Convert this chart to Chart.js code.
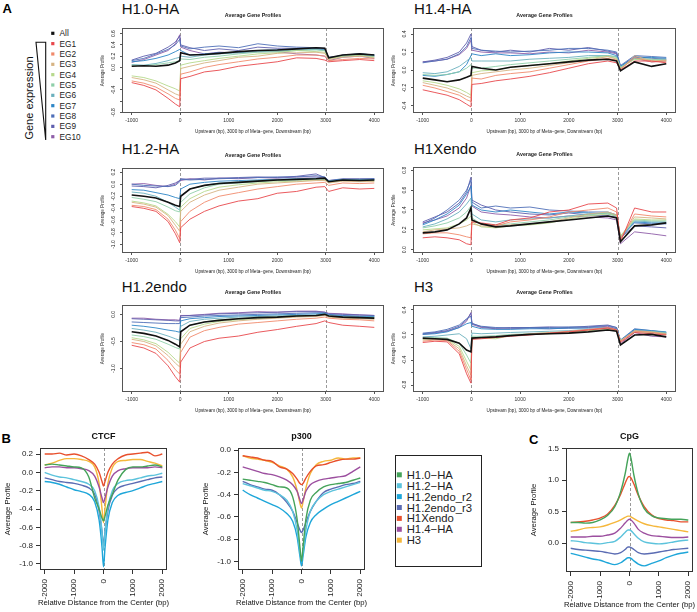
<!DOCTYPE html>
<html>
<head>
<meta charset="utf-8">
<script src="https://cdn.jsdelivr.net/npm/chart.js@4.4.1/dist/chart.umd.min.js"></script>
<style>
  body { margin: 0; width: 697px; height: 612px; position: relative; overflow: hidden; background: #fff; }
  canvas { position: absolute; }
  svg { position: absolute; left: 0; top: 0; }
  svg text { font-family: "Liberation Sans", Arial, sans-serif; }
</style>
</head>
<body>
<svg id="decor" width="697" height="612"></svg>
<script>
/* ─── Panel A: average gene profiles ─────────────────────────── */

const GENE_X = [-1000, -750, -500, -250, -100, -10, 10, 200, 500, 800, 1200, 1600, 2000, 2400, 2800, 2980, 3060, 3350, 3700, 4000];
const GENE_TICKS = [-1000, 0, 1000, 2000, 3000, 4000];
const GENE_GROUPS = ['All', 'EG1', 'EG2', 'EG3', 'EG4', 'EG5', 'EG6', 'EG7', 'EG8', 'EG9', 'EG10'];
const GROUP_COLORS = ['#111111', '#e8474c', '#f08a6c', '#d6b383', '#b7d98c', '#8ecfa9', '#6ab0bd', '#2d86c6', '#4f6fb8', '#5f5fae', '#8e5ea8'];

// rows follow GENE_GROUPS: All, EG1 ... EG10
const h10HA = [
  [0.02, 0.03, 0.02, 0.04, 0.08, 0.12, 0.26, 0.22, 0.23, 0.25, 0.28, 0.30, 0.31, 0.33, 0.35, 0.34, 0.17, 0.22, 0.24, 0.22],
  [-0.27, -0.32, -0.40, -0.55, -0.65, -0.70, -0.20, -0.16, -0.08, -0.05, 0.02, 0.06, 0.10, 0.17, 0.16, 0.13, 0.10, 0.12, 0.14, 0.12],
  [-0.24, -0.28, -0.35, -0.47, -0.55, -0.58, -0.12, -0.08, 0.00, 0.05, 0.10, 0.15, 0.18, 0.22, 0.22, 0.20, 0.12, 0.14, 0.16, 0.15],
  [-0.18, -0.22, -0.28, -0.40, -0.47, -0.50, -0.02, 0.02, 0.08, 0.12, 0.18, 0.20, 0.25, 0.26, 0.27, 0.25, 0.14, 0.18, 0.20, 0.17],
  [-0.15, -0.18, -0.24, -0.33, -0.38, -0.42, 0.04, 0.08, 0.12, 0.16, 0.20, 0.24, 0.26, 0.30, 0.28, 0.27, 0.15, 0.20, 0.21, 0.18],
  [0.04, 0.03, 0.05, 0.08, 0.10, 0.12, 0.15, 0.14, 0.18, 0.20, 0.24, 0.27, 0.28, 0.30, 0.31, 0.30, 0.16, 0.20, 0.22, 0.19],
  [0.05, 0.04, 0.07, 0.12, 0.16, 0.18, 0.20, 0.18, 0.22, 0.24, 0.26, 0.28, 0.29, 0.31, 0.32, 0.30, 0.17, 0.21, 0.23, 0.21],
  [0.10, 0.12, 0.16, 0.22, 0.28, 0.32, 0.30, 0.22, 0.24, 0.26, 0.27, 0.30, 0.31, 0.33, 0.33, 0.31, 0.16, 0.22, 0.24, 0.22],
  [0.12, 0.16, 0.24, 0.32, 0.40, 0.50, 0.38, 0.33, 0.36, 0.38, 0.35, 0.42, 0.38, 0.36, 0.35, 0.34, 0.18, 0.21, 0.24, 0.22],
  [0.13, 0.20, 0.25, 0.36, 0.45, 0.56, 0.40, 0.35, 0.30, 0.33, 0.30, 0.36, 0.34, 0.34, 0.34, 0.32, 0.17, 0.20, 0.22, 0.20],
  [0.09, 0.14, 0.22, 0.30, 0.42, 0.58, 0.36, 0.30, 0.24, 0.27, 0.26, 0.28, 0.28, 0.24, 0.22, 0.20, 0.12, 0.18, 0.20, 0.16]
];

const h14HA = [
  [-0.09, -0.11, -0.13, -0.11, -0.08, -0.06, 0.04, 0.02, 0.00, 0.03, 0.05, 0.07, 0.09, 0.11, 0.12, 0.10, -0.01, 0.09, 0.04, 0.07],
  [-0.22, -0.25, -0.28, -0.33, -0.38, -0.41, -0.16, -0.15, -0.12, -0.10, -0.07, -0.03, 0.02, 0.07, 0.10, 0.08, 0.00, 0.10, 0.10, 0.08],
  [-0.17, -0.20, -0.24, -0.28, -0.33, -0.35, -0.09, -0.10, -0.06, -0.04, -0.02, 0.02, 0.06, 0.10, 0.13, 0.11, 0.01, 0.14, 0.09, 0.10],
  [-0.14, -0.17, -0.20, -0.25, -0.29, -0.31, -0.06, -0.04, -0.02, 0.00, 0.02, 0.05, 0.08, 0.11, 0.15, 0.12, 0.00, 0.16, 0.10, 0.11],
  [-0.12, -0.14, -0.17, -0.21, -0.25, -0.28, -0.03, -0.01, 0.00, 0.03, 0.05, 0.07, 0.10, 0.13, 0.15, 0.13, 0.02, 0.12, 0.11, 0.10],
  [-0.05, -0.06, -0.05, -0.02, 0.02, 0.06, 0.02, 0.02, 0.04, 0.06, 0.08, 0.10, 0.12, 0.14, 0.16, 0.14, 0.03, 0.12, 0.12, 0.11],
  [-0.03, -0.04, -0.02, 0.04, 0.10, 0.14, 0.10, 0.10, 0.10, 0.10, 0.12, 0.13, 0.14, 0.16, 0.16, 0.15, 0.03, 0.13, 0.12, 0.12],
  [-0.06, -0.07, -0.05, -0.02, 0.06, 0.16, 0.18, 0.16, 0.18, 0.16, 0.17, 0.19, 0.20, 0.20, 0.19, 0.16, 0.04, 0.14, 0.14, 0.13],
  [0.08, 0.10, 0.12, 0.18, 0.26, 0.36, 0.24, 0.22, 0.21, 0.20, 0.21, 0.22, 0.24, 0.24, 0.22, 0.20, 0.05, 0.16, 0.15, 0.14],
  [0.09, 0.11, 0.14, 0.20, 0.30, 0.40, 0.26, 0.22, 0.20, 0.22, 0.20, 0.24, 0.22, 0.25, 0.21, 0.19, 0.04, 0.15, 0.13, 0.12],
  [0.09, 0.10, 0.12, 0.17, 0.24, 0.33, 0.22, 0.20, 0.19, 0.19, 0.18, 0.20, 0.19, 0.22, 0.20, 0.18, 0.02, 0.13, 0.09, 0.10]
];

const h12HA = [
  [-0.18, -0.20, -0.23, -0.30, -0.35, -0.37, -0.20, -0.08, -0.02, 0.01, 0.03, 0.05, 0.07, 0.08, 0.09, 0.10, 0.04, 0.07, 0.06, 0.07],
  [-0.37, -0.40, -0.45, -0.62, -0.82, -0.97, -0.72, -0.58, -0.45, -0.36, -0.28, -0.24, -0.15, -0.12, -0.05, -0.04, -0.12, -0.06, -0.08, -0.07],
  [-0.35, -0.37, -0.42, -0.58, -0.76, -0.90, -0.62, -0.45, -0.30, -0.20, -0.14, -0.08, -0.04, 0.00, 0.02, 0.03, -0.02, 0.02, 0.01, 0.02],
  [-0.30, -0.33, -0.38, -0.52, -0.68, -0.78, -0.45, -0.30, -0.18, -0.10, -0.05, 0.00, 0.02, 0.04, 0.06, 0.06, 0.02, 0.05, 0.04, 0.05],
  [-0.28, -0.31, -0.36, -0.50, -0.62, -0.71, -0.38, -0.24, -0.12, -0.05, -0.01, 0.02, 0.04, 0.05, 0.07, 0.07, 0.03, 0.06, 0.05, 0.05],
  [-0.22, -0.25, -0.29, -0.38, -0.44, -0.46, -0.30, -0.16, -0.06, 0.00, 0.02, 0.04, 0.06, 0.07, 0.08, 0.08, 0.04, 0.06, 0.06, 0.06],
  [-0.13, -0.15, -0.20, -0.30, -0.38, -0.43, -0.20, -0.08, -0.02, 0.02, 0.04, 0.06, 0.07, 0.08, 0.09, 0.09, 0.05, 0.07, 0.07, 0.07],
  [-0.09, -0.10, -0.14, -0.18, -0.22, -0.24, -0.08, 0.00, 0.03, 0.05, 0.06, 0.07, 0.08, 0.09, 0.10, 0.10, 0.05, 0.08, 0.07, 0.08],
  [0.00, -0.02, -0.03, -0.04, -0.02, 0.04, 0.08, 0.07, 0.08, 0.09, 0.10, 0.11, 0.12, 0.12, 0.14, 0.12, 0.06, 0.08, 0.08, 0.09],
  [-0.03, -0.04, -0.06, -0.02, 0.02, 0.06, 0.09, 0.08, 0.10, 0.10, 0.11, 0.12, 0.11, 0.13, 0.17, 0.11, 0.06, 0.09, 0.09, 0.09],
  [0.00, 0.01, -0.02, -0.04, 0.00, 0.06, 0.06, 0.09, 0.07, 0.10, 0.09, 0.11, 0.10, 0.12, 0.12, 0.10, 0.05, 0.07, 0.07, 0.08]
];

const h1Xendo = [
  [0.17, 0.18, 0.20, 0.26, 0.32, 0.42, 0.30, 0.26, 0.23, 0.24, 0.26, 0.28, 0.30, 0.32, 0.34, 0.32, 0.08, 0.24, 0.25, 0.27],
  [0.12, 0.13, 0.12, 0.10, 0.06, 0.05, 0.28, 0.27, 0.25, 0.30, 0.32, 0.38, 0.40, 0.46, 0.47, 0.42, 0.08, 0.42, 0.38, 0.38],
  [0.16, 0.17, 0.17, 0.15, 0.13, 0.12, 0.30, 0.26, 0.24, 0.28, 0.30, 0.33, 0.38, 0.40, 0.42, 0.38, 0.10, 0.36, 0.34, 0.33],
  [0.18, 0.20, 0.21, 0.22, 0.24, 0.26, 0.26, 0.24, 0.23, 0.25, 0.26, 0.28, 0.32, 0.36, 0.38, 0.35, 0.12, 0.33, 0.32, 0.31],
  [0.20, 0.21, 0.22, 0.26, 0.30, 0.34, 0.28, 0.23, 0.22, 0.24, 0.25, 0.27, 0.31, 0.34, 0.36, 0.34, 0.14, 0.31, 0.30, 0.30],
  [0.22, 0.24, 0.27, 0.32, 0.38, 0.44, 0.32, 0.26, 0.25, 0.26, 0.28, 0.30, 0.33, 0.35, 0.37, 0.34, 0.13, 0.30, 0.29, 0.29],
  [0.23, 0.26, 0.31, 0.38, 0.46, 0.52, 0.36, 0.30, 0.28, 0.30, 0.31, 0.32, 0.34, 0.36, 0.37, 0.35, 0.12, 0.29, 0.28, 0.28],
  [0.25, 0.30, 0.36, 0.45, 0.56, 0.64, 0.45, 0.40, 0.38, 0.40, 0.38, 0.36, 0.38, 0.37, 0.36, 0.34, 0.12, 0.28, 0.27, 0.27],
  [0.26, 0.32, 0.40, 0.50, 0.60, 0.70, 0.48, 0.42, 0.44, 0.42, 0.43, 0.40, 0.39, 0.38, 0.38, 0.35, 0.13, 0.27, 0.26, 0.26],
  [0.28, 0.33, 0.38, 0.47, 0.58, 0.73, 0.50, 0.45, 0.40, 0.38, 0.36, 0.35, 0.37, 0.35, 0.34, 0.33, 0.12, 0.24, 0.23, 0.22],
  [0.27, 0.30, 0.34, 0.42, 0.52, 0.65, 0.44, 0.38, 0.36, 0.35, 0.33, 0.32, 0.34, 0.33, 0.32, 0.30, 0.06, 0.18, 0.16, 0.14]
];

const h12endo = [
  [-0.32, -0.35, -0.40, -0.48, -0.55, -0.60, -0.32, -0.20, -0.14, -0.11, -0.08, -0.06, -0.05, -0.03, -0.02, 0.00, -0.03, -0.05, -0.06, -0.07],
  [-0.57, -0.62, -0.72, -0.95, -1.15, -1.25, -0.88, -0.62, -0.50, -0.44, -0.40, -0.33, -0.28, -0.22, -0.17, -0.12, -0.15, -0.20, -0.22, -0.24],
  [-0.52, -0.56, -0.64, -0.85, -1.02, -1.10, -0.70, -0.42, -0.30, -0.24, -0.18, -0.15, -0.12, -0.09, -0.07, -0.05, -0.07, -0.09, -0.10, -0.12],
  [-0.46, -0.50, -0.58, -0.76, -0.90, -0.97, -0.55, -0.32, -0.22, -0.16, -0.12, -0.09, -0.07, -0.05, -0.04, -0.02, -0.05, -0.07, -0.08, -0.09],
  [-0.43, -0.47, -0.54, -0.70, -0.83, -0.90, -0.45, -0.26, -0.18, -0.13, -0.10, -0.08, -0.06, -0.04, -0.03, -0.01, -0.04, -0.06, -0.07, -0.08],
  [-0.38, -0.41, -0.46, -0.55, -0.61, -0.64, -0.32, -0.20, -0.14, -0.10, -0.08, -0.06, -0.04, -0.03, -0.02, 0.00, -0.03, -0.05, -0.06, -0.06],
  [-0.26, -0.29, -0.33, -0.40, -0.45, -0.48, -0.22, -0.13, -0.09, -0.07, -0.05, -0.04, -0.03, -0.02, -0.01, 0.01, -0.02, -0.04, -0.05, -0.05],
  [-0.20, -0.22, -0.25, -0.29, -0.31, -0.33, -0.12, -0.08, -0.06, -0.04, -0.03, -0.02, -0.01, 0.00, 0.01, 0.02, -0.01, -0.03, -0.04, -0.04],
  [-0.14, -0.15, -0.16, -0.17, -0.17, -0.17, -0.06, -0.05, -0.03, -0.02, -0.01, 0.00, 0.01, 0.02, 0.03, 0.03, 0.00, -0.02, -0.03, -0.03],
  [-0.08, -0.09, -0.10, -0.11, -0.12, -0.12, -0.03, -0.02, -0.01, 0.01, 0.02, 0.03, 0.04, 0.05, 0.05, 0.04, 0.01, 0.00, -0.01, -0.02],
  [-0.07, -0.07, -0.09, -0.10, -0.10, -0.11, -0.02, -0.02, 0.00, 0.02, 0.03, 0.05, 0.04, 0.06, 0.06, 0.04, 0.02, 0.01, -0.01, -0.02]
];

const h3 = [
  [-0.05, -0.06, -0.07, -0.13, -0.24, -0.27, -0.05, -0.04, -0.03, -0.01, 0.01, 0.02, 0.03, 0.05, 0.08, 0.06, -0.16, 0.00, 0.01, -0.03],
  [-0.12, -0.10, -0.11, -0.30, -0.62, -0.77, -0.07, -0.06, -0.04, -0.02, 0.00, 0.03, 0.05, 0.08, 0.11, 0.08, -0.12, 0.04, 0.02, 0.00],
  [-0.10, -0.08, -0.09, -0.26, -0.55, -0.72, -0.06, -0.05, -0.03, -0.01, 0.01, 0.03, 0.06, 0.09, 0.12, 0.09, -0.10, 0.06, 0.04, 0.01],
  [-0.08, -0.07, -0.08, -0.22, -0.49, -0.64, -0.05, -0.04, -0.03, -0.01, 0.02, 0.04, 0.05, 0.08, 0.10, 0.08, -0.10, 0.07, 0.05, 0.02],
  [-0.07, -0.06, -0.07, -0.18, -0.42, -0.56, -0.04, -0.05, -0.06, -0.01, 0.01, 0.02, 0.04, 0.07, 0.09, 0.07, -0.09, 0.05, 0.04, 0.01],
  [-0.05, -0.04, -0.05, -0.13, -0.32, -0.45, -0.02, -0.02, -0.01, 0.01, 0.02, 0.04, 0.05, 0.07, 0.09, 0.08, -0.09, 0.06, 0.05, 0.03],
  [-0.03, -0.02, 0.00, 0.02, -0.06, -0.22, 0.03, 0.02, 0.03, 0.04, 0.05, 0.06, 0.07, 0.09, 0.10, 0.08, -0.10, 0.07, 0.06, 0.04],
  [0.01, 0.02, 0.05, 0.12, 0.18, 0.20, 0.14, 0.10, 0.09, 0.09, 0.10, 0.10, 0.11, 0.11, 0.12, 0.10, -0.09, 0.09, 0.07, 0.05],
  [0.03, 0.05, 0.09, 0.16, 0.26, 0.30, 0.18, 0.14, 0.12, 0.11, 0.12, 0.12, 0.13, 0.13, 0.15, 0.12, -0.08, 0.10, 0.07, 0.04],
  [0.02, 0.04, 0.07, 0.14, 0.24, 0.35, 0.19, 0.13, 0.11, 0.12, 0.12, 0.13, 0.12, 0.14, 0.16, 0.12, -0.10, 0.08, 0.05, 0.02],
  [0.01, 0.03, 0.06, 0.12, 0.22, 0.36, 0.17, 0.12, 0.10, 0.10, 0.11, 0.10, 0.11, 0.12, 0.14, 0.10, -0.14, 0.04, -0.02, -0.03]
];

/* ─── Panels B and C: profiles around peak centers ───────────── */

const CENTER_X = [-2000, -1750, -1500, -1250, -1000, -750, -500, -300, -150, -50, 0, 50, 150, 300, 500, 750, 1000, 1250, 1500, 1750, 2000];
const CENTER_TICKS = [-2000, -1000, 0, 1000, 2000];
const MARKS = ['H1.0\u2212HA', 'H1.2\u2212HA', 'H1.2endo_r2', 'H1.2endo_r3', 'H1Xendo', 'H1.4\u2212HA', 'H3'];
const MARK_COLORS = ['#45a35a', '#5cc3dc', '#1ea6d9', '#5b6cb3', '#e8502d', '#9c4f9f', '#f5b73b'];

// rows follow MARKS
const ctcf = [
  [0.08, 0.09, 0.08, 0.07, 0.06, 0.05, -0.05, -0.28, -0.40, -0.50, -0.53, -0.48, -0.36, -0.24, -0.08, 0.03, 0.06, 0.06, 0.07, 0.08, 0.06],
  [0.00, -0.03, -0.05, -0.06, -0.08, -0.10, -0.13, -0.20, -0.38, -0.65, -0.85, -0.66, -0.38, -0.20, -0.12, -0.09, -0.08, -0.06, -0.04, -0.03, -0.01],
  [-0.10, -0.11, -0.13, -0.16, -0.19, -0.21, -0.24, -0.32, -0.52, -0.82, -1.03, -0.83, -0.52, -0.33, -0.25, -0.22, -0.20, -0.17, -0.14, -0.12, -0.10],
  [-0.06, -0.08, -0.10, -0.11, -0.12, -0.14, -0.17, -0.24, -0.42, -0.65, -0.79, -0.65, -0.42, -0.25, -0.17, -0.14, -0.12, -0.10, -0.08, -0.06, -0.05],
  [0.20, 0.20, 0.21, 0.19, 0.20, 0.18, 0.14, 0.09, 0.00, -0.10, -0.15, -0.10, 0.00, 0.09, 0.15, 0.19, 0.20, 0.21, 0.22, 0.18, 0.20],
  [0.05, 0.06, 0.06, 0.05, 0.05, 0.04, 0.02, -0.04, -0.16, -0.28, -0.33, -0.28, -0.16, -0.04, 0.02, 0.04, 0.05, 0.05, 0.05, 0.06, 0.05],
  [0.08, 0.10, 0.13, 0.15, 0.15, 0.14, 0.12, 0.06, -0.12, -0.40, -0.55, -0.40, -0.12, 0.05, 0.12, 0.13, 0.14, 0.14, 0.12, 0.10, 0.07]
];

const p300 = [
  [-0.26, -0.27, -0.28, -0.29, -0.31, -0.33, -0.34, -0.42, -0.62, -0.88, -1.00, -0.88, -0.62, -0.45, -0.38, -0.33, -0.31, -0.30, -0.29, -0.27, -0.25],
  [-0.30, -0.32, -0.34, -0.36, -0.37, -0.40, -0.45, -0.55, -0.72, -0.92, -0.99, -0.92, -0.72, -0.55, -0.46, -0.40, -0.37, -0.35, -0.33, -0.31, -0.29],
  [-0.36, -0.40, -0.43, -0.46, -0.49, -0.52, -0.57, -0.64, -0.78, -0.96, -1.04, -0.96, -0.78, -0.65, -0.58, -0.53, -0.49, -0.46, -0.43, -0.40, -0.37],
  [-0.28, -0.31, -0.33, -0.35, -0.36, -0.40, -0.47, -0.55, -0.65, -0.72, -0.74, -0.72, -0.65, -0.55, -0.46, -0.38, -0.35, -0.33, -0.31, -0.30, -0.28],
  [-0.05, -0.06, -0.07, -0.09, -0.10, -0.15, -0.17, -0.21, -0.26, -0.30, -0.31, -0.30, -0.25, -0.19, -0.14, -0.13, -0.11, -0.09, -0.08, -0.08, -0.07],
  [-0.15, -0.17, -0.19, -0.21, -0.22, -0.24, -0.27, -0.31, -0.37, -0.45, -0.48, -0.45, -0.37, -0.31, -0.28, -0.26, -0.25, -0.24, -0.23, -0.19, -0.15],
  [-0.05, -0.07, -0.08, -0.09, -0.11, -0.14, -0.17, -0.24, -0.36, -0.48, -0.52, -0.47, -0.34, -0.21, -0.13, -0.10, -0.09, -0.07, -0.08, -0.07, -0.07]
];

const cpg = [
  [0.33, 0.33, 0.32, 0.33, 0.37, 0.44, 0.58, 0.82, 1.10, 1.35, 1.43, 1.35, 1.08, 0.78, 0.55, 0.44, 0.40, 0.39, 0.38, 0.38, 0.37],
  [0.04, 0.03, 0.01, 0.00, -0.01, 0.01, 0.03, 0.10, 0.17, 0.21, 0.21, 0.20, 0.15, 0.08, 0.02, 0.00, -0.01, 0.00, 0.02, 0.04, 0.05],
  [-0.16, -0.19, -0.22, -0.25, -0.27, -0.31, -0.34, -0.31, -0.26, -0.23, -0.23, -0.24, -0.28, -0.33, -0.36, -0.32, -0.28, -0.23, -0.19, -0.16, -0.14],
  [-0.08, -0.10, -0.11, -0.12, -0.13, -0.15, -0.17, -0.15, -0.10, -0.06, -0.06, -0.07, -0.10, -0.15, -0.17, -0.16, -0.14, -0.12, -0.10, -0.09, -0.08],
  [0.33, 0.34, 0.35, 0.37, 0.40, 0.46, 0.60, 0.78, 0.95, 1.05, 1.06, 1.04, 0.94, 0.76, 0.58, 0.45, 0.39, 0.37, 0.36, 0.34, 0.34],
  [0.10, 0.10, 0.10, 0.11, 0.11, 0.13, 0.16, 0.24, 0.32, 0.37, 0.38, 0.37, 0.32, 0.22, 0.16, 0.12, 0.11, 0.10, 0.09, 0.09, 0.10],
  [0.19, 0.21, 0.24, 0.25, 0.26, 0.29, 0.33, 0.37, 0.41, 0.43, 0.43, 0.42, 0.39, 0.35, 0.31, 0.28, 0.26, 0.24, 0.22, 0.20, 0.18]
];

/* ─── drawing ────────────────────────────────────────────────── */

Chart.defaults.font.family = '"Liberation Sans", Arial, sans-serif';

// R-like look: box frame, dashed guides, rotated y labels, titles
const rStyle = {
  id: 'rStyle',
  beforeDatasetsDraw(chart, args, o) {
    const { ctx, chartArea: a, scales: { x } } = chart;
    ctx.save();
    ctx.strokeStyle = '#9a9a9a';
    ctx.lineWidth = 1;
    ctx.setLineDash([3, 2]);
    o.guides.forEach(v => {
      const px = Math.round(x.getPixelForValue(v)) + 0.5;
      ctx.beginPath();
      ctx.moveTo(px, a.top);
      ctx.lineTo(px, a.bottom);
      ctx.stroke();
    });
    ctx.restore();
  },
  afterDraw(chart, args, o) {
    const { ctx, chartArea: a, scales: { y } } = chart;
    const cx = (a.left + a.right) / 2, cy = (a.top + a.bottom) / 2;
    ctx.save();
    ctx.strokeStyle = o.frame;
    ctx.lineWidth = 1;
    ctx.strokeRect(a.left + 0.5, a.top + 0.5, a.right - a.left - 1, a.bottom - a.top - 1);
    ctx.fillStyle = o.ink;
    ctx.textAlign = 'center';
    ctx.textBaseline = 'middle';
    if (o.yLabels) {
      ctx.font = o.yLabelFont;
      o.yLabels.forEach(v => {
        ctx.save();
        ctx.translate(a.left - o.yLabelGap, y.getPixelForValue(v));
        ctx.rotate(-Math.PI / 2);
        ctx.fillText(v.toFixed(1), 0, 0);
        ctx.restore();
      });
    }
    ctx.font = o.titleFont;
    ctx.fillText(o.title, cx, a.top - o.titleGap);
    ctx.font = o.axisFont;
    ctx.fillText(o.xTitle, cx, a.bottom + o.xTitleGap);
    ctx.translate(a.left - o.yTitleGap, cy);
    ctx.rotate(-Math.PI / 2);
    ctx.fillText(o.yTitle, 0, 0);
    ctx.restore();
  }
};

function mount(box, pad) {
  const c = document.createElement('canvas');
  const w = box.r - box.l + pad.l + pad.r;
  const h = box.b - box.t + pad.t + pad.b;
  c.width = w; c.height = h;
  c.style.width = w + 'px'; c.style.height = h + 'px';
  c.style.left = (box.l - pad.l) + 'px';
  c.style.top = (box.t - pad.t) + 'px';
  document.body.appendChild(c);
  return c;
}

function panel(box, pad, o) {
  const canvas = mount(box, pad);
  const datasets = o.series.map((vals, i) => ({
    label: o.names[i],
    data: o.xs.map((x, j) => ({ x, y: vals[j] })),
    borderColor: o.colors[i],
    borderWidth: o.widths[i],
    pointRadius: 0,
    tension: o.smooth ? 0.35 : 0,
    cubicInterpolationMode: o.smooth ? 'monotone' : 'default'
  }));
  const tickGrid = { drawOnChartArea: false, drawTicks: true, tickLength: o.tickLen, color: o.frame };
  new Chart(canvas, {
    type: 'line',
    data: { datasets },
    options: {
      responsive: false,
      animation: false,
      events: [],
      layout: { padding: { left: 0, top: pad.t, right: pad.r, bottom: 0 } },
      plugins: {
        legend: { display: false },
        tooltip: { enabled: false },
        rStyle: o.style
      },
      scales: {
        x: {
          type: 'linear', min: o.xRange[0], max: o.xRange[1],
          afterBuildTicks: s => { s.ticks = o.xTicks.map(v => ({ value: v })); },
          afterFit: s => { s.height = pad.b; s.paddingLeft = 0; s.paddingRight = 0; },
          grid: tickGrid,
          border: { display: false },
          ticks: {
            autoSkip: false, color: o.ink, padding: o.xTickPad,
            minRotation: o.xRot, maxRotation: o.xRot,
            font: { size: o.xTickSize },
            callback: v => String(v)
          }
        },
        y: {
          min: o.yRange[0], max: o.yRange[1],
          afterBuildTicks: s => { s.ticks = o.yTicks.map(v => ({ value: v })); },
          afterFit: s => { s.width = pad.l; s.paddingTop = 0; s.paddingBottom = 0; },
          grid: tickGrid,
          border: { display: false },
          ticks: {
            color: o.ink, padding: 3,
            font: { size: o.yTickSize },
            callback: v => (o.style.yLabels ? '' : v.toFixed(1))
          }
        }
      }
    },
    plugins: [rStyle]
  });
}

const GENE_WIDTHS = GENE_GROUPS.map(g => (g === 'All' ? 1.6 : 0.9));
const GENE_PAD = { l: 24, t: 17, r: 3, b: 23 };

function genePanel(box, series, yRange, yTicks, yLabels) {
  panel(box, GENE_PAD, {
    xs: GENE_X, series, names: GENE_GROUPS, colors: GROUP_COLORS, widths: GENE_WIDTHS,
    smooth: false, xRange: [-1200, 4200], xTicks: GENE_TICKS, xRot: 0, xTickSize: 5, xTickPad: 2.5,
    yRange, yTicks, yTickSize: 5, tickLen: 2, frame: '#555', ink: '#333',
    style: {
      guides: [0, 3000], frame: '#555', ink: '#222',
      yLabels, yLabelFont: '5px "Liberation Sans", Arial', yLabelGap: 8.5,
      title: 'Average Gene Profiles', titleFont: 'bold 5.3px "Liberation Sans", Arial', titleGap: 12.5,
      xTitle: 'Upstream (bp), 3000 bp of Meta\u2212gene, Downstream (bp)', xTitleGap: 18.7,
      yTitle: 'Average Profile', axisFont: '4.6px "Liberation Sans", Arial', yTitleGap: 19
    }
  });
}

genePanel({ l: 122, r: 384, t: 28, b: 113 }, h10HA, [-0.81, 0.70],
  [-0.8, -0.6, -0.4, -0.2, 0, 0.2, 0.4, 0.6], [-0.8, -0.4, 0, 0.2, 0.4, 0.6]);
genePanel({ l: 413, r: 676, t: 28, b: 113 }, h14HA, [-0.478, 0.467],
  [-0.4, -0.2, 0, 0.2, 0.4], [-0.4, -0.2, 0, 0.2, 0.4]);
genePanel({ l: 122, r: 384, t: 168, b: 253 }, h12HA, [-1.14, 0.268],
  [-1, -0.8, -0.6, -0.4, -0.2, 0, 0.2], [-1, -0.8, -0.6, -0.4, -0.2, 0, 0.2]);
genePanel({ l: 413, r: 676, t: 167, b: 253 }, h1Xendo, [-0.033, 0.833],
  [0, 0.2, 0.4, 0.6, 0.8], [0, 0.2, 0.4, 0.6, 0.8]);
genePanel({ l: 122, r: 384, t: 305, b: 392 }, h12endo, [-1.432, 0.173],
  [-1, -0.5, 0], [-1, -0.5, 0]);
genePanel({ l: 413, r: 676, t: 305, b: 392 }, h3, [-0.912, 0.48],
  [-0.8, -0.6, -0.4, -0.2, 0, 0.2, 0.4], [-0.8, -0.4, 0, 0.4]);

const CENTER_PAD = { l: 39, t: 16, r: 3, b: 38 };

function centerPanel(box, title, series, yRange, yTicks) {
  panel(box, CENTER_PAD, {
    xs: CENTER_X, series, names: MARKS, colors: MARK_COLORS, widths: MARKS.map(() => 1.4),
    smooth: true, xRange: [-2160, 2160], xTicks: CENTER_TICKS, xRot: 90, xTickSize: 8, xTickPad: 5,
    yRange, yTicks, yTickSize: 8, tickLen: 4, frame: '#333', ink: '#222',
    style: {
      guides: [0], frame: '#333', ink: '#111',
      title, titleFont: 'bold 9px "Liberation Sans", Arial', titleGap: 11,
      xTitle: 'Relative Distance from the Center (bp)', xTitleGap: 33.3,
      yTitle: 'Average Profile', axisFont: '7.7px "Liberation Sans", Arial', yTitleGap: 32.5
    }
  });
}

centerPanel({ l: 40, r: 167, t: 448, b: 570 }, 'CTCF', ctcf, [-1.066, 0.266], [-1, -0.8, -0.6, -0.4, -0.2, 0, 0.2]);
centerPanel({ l: 238, r: 365, t: 448, b: 570 }, 'p300', p300, [-1.078, 0.02], [-1, -0.8, -0.6, -0.4, -0.2, 0]);
centerPanel({ l: 566, r: 693, t: 448, b: 572 }, 'CpG', cpg, [-0.457, 1.513], [0, 0.5, 1, 1.5]);

/* ─── labels, legends ─────────────────────────────────────────── */

const svg = document.getElementById('decor');
function add(tag, attrs, text) {
  const el = document.createElementNS('http://www.w3.org/2000/svg', tag);
  Object.entries(attrs).forEach(([k, v]) => el.setAttribute(k, v));
  if (text) el.textContent = text;
  svg.appendChild(el);
  return el;
}

add('text', { x: 2.5, y: 13.3, 'font-size': 13, 'font-weight': 'bold' }, 'A');
add('text', { x: 1.5, y: 443.3, 'font-size': 13, 'font-weight': 'bold' }, 'B');
add('text', { x: 529, y: 443.5, 'font-size': 13, 'font-weight': 'bold' }, 'C');

[['H1.0-HA', 121.7, 14.2], ['H1.4-HA', 414, 14.2], ['H1.2-HA', 121.7, 154.2],
 ['H1Xendo', 414, 153.5], ['H1.2endo', 121.7, 292], ['H3', 414, 292.3]]
  .forEach(([t, x, y]) => add('text', { x, y, 'font-size': 15, fill: '#111' }, t));

GENE_GROUPS.forEach((g, i) => {
  const y = 33.3 + 10.34 * i;
  add('rect', { x: 51.2, y: y - 1.6, width: 3.2, height: 3.2, fill: GROUP_COLORS[i] });
  add('text', { x: 59.5, y: y + 2.9, 'font-size': 8.3, fill: '#222' }, g);
});
add('path', { d: 'M36,42.3 L45.7,42.3 L45.7,140 Z', fill: 'none', stroke: '#111', 'stroke-width': 1.1 });
add('text', { transform: 'translate(33,98) rotate(-90)', 'text-anchor': 'middle', 'font-size': 11, fill: '#111' }, 'Gene expression');

add('rect', { x: 395.5, y: 455.5, width: 86, height: 111, fill: 'none', stroke: '#222', 'stroke-width': 1 });
MARKS.forEach((m, i) => {
  const y = 474.8 + 10.9 * i;
  add('rect', { x: 396.8, y: y - 2.5, width: 5, height: 5, fill: MARK_COLORS[i] });
  add('text', { x: 406.7, y: y + 4, 'font-size': 11.3, fill: '#222' }, m);
});
</script>
</body>
</html>
